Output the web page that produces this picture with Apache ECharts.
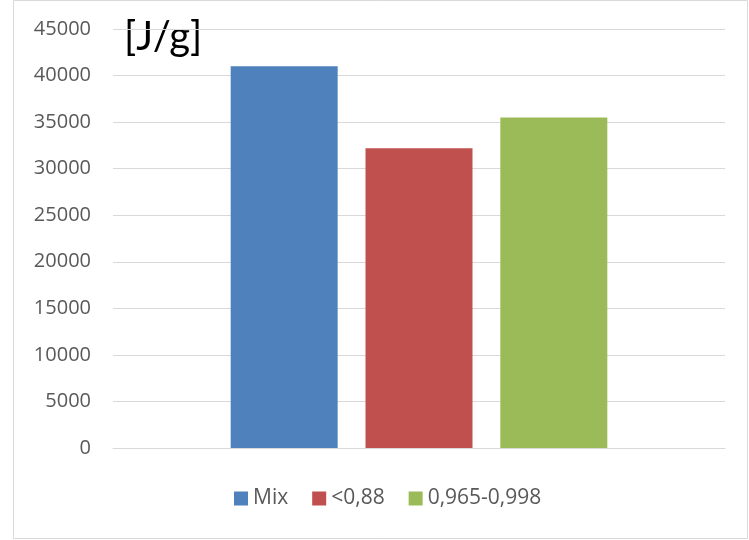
<!DOCTYPE html>
<html>
<head>
<meta charset="utf-8">
<script src="https://cdn.jsdelivr.net/npm/echarts@6/dist/echarts.min.js"></script>
<style>
  html, body { margin: 0; padding: 0; background: #fff; }
  #chart { width: 749px; height: 540px; }
</style>
</head>
<body>
<div id="chart"></div>
<script>
// data
const categories = ['']
const seriesNames = ['Mix', '<0,88', '0,965-0,998']
const seriesValues = [[41000], [32200], [35500]]
const seriesColors = ['#4f81bd', '#c0504d', '#9bbb59']
const unitLabel = '[J/g]'

const myChart = echarts.init(document.getElementById('chart'))

const option = {
  animation: false,
  textStyle: { fontFamily: 'Open Sans' },
  graphic: [
    {
      type: 'rect',
      shape: { x: 13.5, y: 0.5, width: 734, height: 538 },
      style: { fill: 'none', stroke: '#d9d9d9', lineWidth: 1 }
    },
    {
      type: 'text',
      left: 124,
      top: 17,
      style: { text: unitLabel, fontSize: 40, fill: '#000', fontFamily: 'Lato' }
    }
  ],
  legend: {
    bottom: 26,
    left: 229,
    icon: 'rect',
    itemWidth: 14,
    itemHeight: 14,
    itemGap: 24,
    textStyle: { fontSize: 21, color: '#595959' },
    data: seriesNames
  },
  grid: { left: 113, right: 24, top: 29, bottom: 92 },
  xAxis: {
    type: 'category',
    data: categories,
    axisLine: { lineStyle: { color: '#d9d9d9' } },
    axisTick: { show: false },
    axisLabel: { show: false }
  },
  yAxis: {
    type: 'value',
    min: 0,
    max: 45000,
    interval: 5000,
    axisLine: { show: false },
    axisTick: { show: false },
    axisLabel: { fontSize: 20, color: '#595959', margin: 22, formatter: v => String(v) },
    splitLine: { lineStyle: { color: '#d9d9d9', width: 1 } }
  },
  series: seriesNames.map((name, i) => ({
    name: name,
    type: 'bar',
    data: seriesValues[i],
    barWidth: 107,
    barGap: '26%',
    itemStyle: { color: seriesColors[i] }
  }))
}

myChart.setOption(option)
</script>
</body>
</html>
